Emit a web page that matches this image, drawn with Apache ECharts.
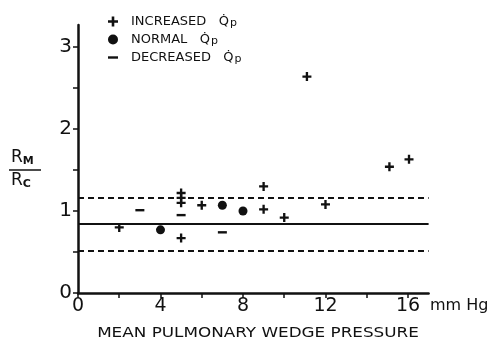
<!DOCTYPE html>
<html>
<head>
<meta charset="utf-8">
<script src="https://cdn.jsdelivr.net/npm/echarts@6/dist/echarts.min.js"></script>
<style>
  html, body { margin: 0; padding: 0; background: #fff; }
  #main { width: 492px; height: 345px; }
</style>
</head>
<body>
<div id="main"></div>
<script>
// 数据
var increased = [[2, 0.80], [5, 1.22], [5, 1.16], [5, 1.10], [5, 0.67], [6, 1.07], [9, 1.30], [9, 1.02],
    [10, 0.92], [11.1, 2.64], [12, 1.08], [15.1, 1.54], [16.05, 1.63]];
var normal = [[4, 0.77], [7, 1.07], [8, 1.00]];
var decreased = [[3, 1.01], [5, 0.95], [7, 0.74]];
var meanRatio = 0.84;
var limits = [0.52, 1.16];

var xTicks = [0, 2, 4, 6, 8, 10, 12, 14, 16];
var xLabels = [0, 4, 8, 12, 16];
var yTicks = [0, 0.5, 1, 1.5, 2, 2.5, 3];
var yLabels = [0, 1, 2, 3];

var ink = '#111';
var font = 'DejaVu Sans';
var plusPath = 'path://M3.7,0H6.3V3.7H10V6.3H6.3V10H3.7V6.3H0V3.7H3.7Z';
var dashPath = 'path://M0,0H10V2.4H0Z';

var myChart = echarts.init(document.getElementById('main'));

var option = {
    animation: false,
    backgroundColor: '#fff',
    grid: { left: 78, right: 63.4, top: 24.9, bottom: 52 },
    legend: {
        orient: 'vertical',
        left: 103,
        top: 9,
        itemWidth: 10,
        itemHeight: 10,
        itemGap: 3,
        symbolKeepAspect: true,
        data: ['INCREASED', 'NORMAL', 'DECREASED'],
        formatter: function (name) {
            return '{t|' + name + '   Q\u0307}{p|p}';
        },
        textStyle: {
            color: ink,
            padding: [0, 0, 0, 8],
            rich: {
                t: { fontFamily: font, fontSize: 13, color: ink, lineHeight: 14 },
                p: { fontFamily: font, fontSize: 11, color: ink, lineHeight: 10, padding: [4, 0, 0, 1] }
            }
        }
    },
    xAxis: {
        type: 'value',
        min: 0,
        max: 17,
        splitLine: { show: false },
        axisLine: { lineStyle: { color: ink, width: 2.5 } },
        axisTick: { length: 5, customValues: xTicks, lineStyle: { color: ink, width: 1.5 } },
        axisLabel: { customValues: xLabels, margin: 4, fontFamily: font, fontSize: 19, color: ink }
    },
    yAxis: {
        type: 'value',
        min: 0,
        max: 3.27,
        splitLine: { show: false },
        axisLine: { lineStyle: { color: ink, width: 2.5 } },
        axisTick: { length: 5, customValues: yTicks, lineStyle: { color: ink, width: 1.5 } },
        axisLabel: { customValues: yLabels, margin: 6, fontFamily: font, fontSize: 20, color: ink }
    },
    graphic: [
        {
            type: 'text', x: 258, y: 333, scaleX: 1.2,
            style: { text: 'MEAN PULMONARY WEDGE PRESSURE', fontFamily: font, fontSize: 14, fill: ink, align: 'center', verticalAlign: 'middle' }
        },
        { type: 'text', left: 430, top: 298, style: { text: 'mm Hg', fontFamily: font, fontSize: 16, fill: ink } },
        {
            type: 'text', left: 11, top: 149,
            style: {
                text: '{r|R}{s|M}', fill: ink,
                rich: { r: { fontFamily: font, fontSize: 17 }, s: { fontFamily: font, fontSize: 11, fontWeight: 'bold', padding: [7, 0, 0, 0] } }
            }
        },
        { type: 'line', shape: { x1: 9, y1: 170, x2: 41, y2: 170 }, style: { stroke: ink, lineWidth: 1.5 } },
        {
            type: 'text', left: 11, top: 172,
            style: {
                text: '{r|R}{s|C}', fill: ink,
                rich: { r: { fontFamily: font, fontSize: 17 }, s: { fontFamily: font, fontSize: 11, fontWeight: 'bold', padding: [7, 0, 0, 0] } }
            }
        }
    ],
    series: [{
        name: 'INCREASED',
        type: 'scatter',
        symbol: plusPath,
        symbolSize: 9,
        itemStyle: { color: ink, opacity: 1 },
        data: increased,
        markLine: {
            silent: true,
            symbol: ['none', 'none'],
            label: { show: false },
            data: [
                { yAxis: meanRatio, lineStyle: { type: 'solid', width: 2, color: ink } },
                { yAxis: limits[0], lineStyle: { type: [6, 4], width: 2, color: ink } },
                { yAxis: limits[1], lineStyle: { type: [6, 4], width: 2, color: ink } }
            ]
        }
    }, {
        name: 'NORMAL',
        type: 'scatter',
        symbol: 'circle',
        symbolSize: 9,
        itemStyle: { color: ink, opacity: 1 },
        data: normal
    }, {
        name: 'DECREASED',
        type: 'scatter',
        symbol: dashPath,
        symbolSize: [9, 2.4],
        itemStyle: { color: ink, opacity: 1 },
        data: decreased
    }]
};

myChart.setOption(option);
</script>
</body>
</html>
